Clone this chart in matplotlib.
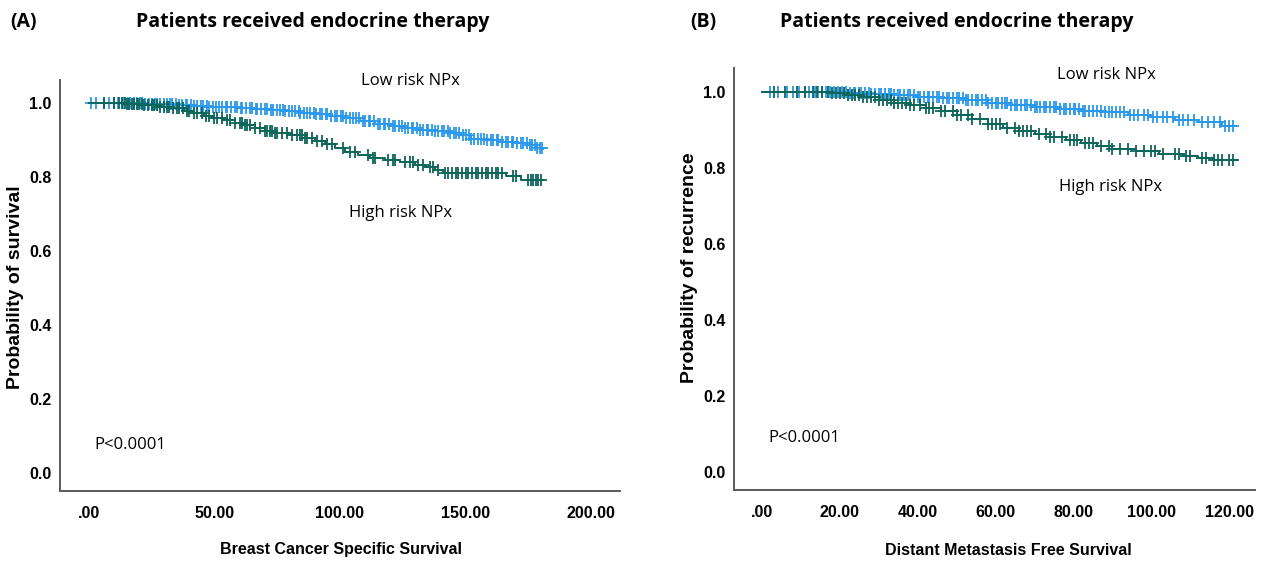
import numpy as np
import matplotlib
matplotlib.use("Agg")
import matplotlib.pyplot as plt

# ---- data ----
# (A) breast cancer specific survival, months
a_low_t = [0, 22, 30, 36, 42, 48, 54, 60, 66, 72, 78, 84, 90, 96, 102, 108, 114, 120, 126,
           132, 138, 144, 148, 152, 158, 164, 170, 175, 178, 181]
a_low_s = [1.0, 0.998, 0.996, 0.994, 0.992, 0.990, 0.988, 0.985, 0.983, 0.980, 0.977, 0.973,
           0.969, 0.964, 0.958, 0.951, 0.944, 0.937, 0.932, 0.928, 0.924, 0.919, 0.912, 0.903,
           0.899, 0.895, 0.892, 0.885, 0.879, 0.875]
a_high_t = [0, 15, 22, 28, 33, 38, 42, 46, 50, 54, 58, 62, 66, 70, 74, 80, 86, 90, 94, 98, 102,
            107, 112, 118, 124, 130, 134, 138, 141, 166, 172, 181]
a_high_s = [1.0, 0.998, 0.995, 0.990, 0.985, 0.978, 0.972, 0.966, 0.960, 0.953, 0.947, 0.940,
            0.932, 0.924, 0.919, 0.913, 0.905, 0.898, 0.889, 0.878, 0.868, 0.858, 0.851, 0.846,
            0.840, 0.833, 0.826, 0.818, 0.811, 0.803, 0.793, 0.793]
a_low_cens = [1, 3, 6, 8, 10, 11.5, 13, 14, 15.5, 16.5, 18, 19, 20.5, 21, 22.5, 24, 25, 26.5,
              27, 28.5, 30, 31, 32.5, 33, 34.5, 36, 37, 38.5, 39, 40.5, 42, 43, 44.5, 45.5, 47,
              48, 49.5, 50.5, 52, 53, 54.5, 55, 56.5, 58, 59, 60.5, 61, 62.5, 64, 65, 66.5, 67,
              68.5, 70, 71, 72.5, 73.5, 75, 76, 77.5, 78, 79.5, 81, 82, 83.5, 84, 85.5, 87, 88,
              89.5, 90.5, 92, 93, 94.5, 95, 96.5, 98, 99, 100.5, 101, 102.5, 104, 105, 106.5,
              107.5, 109, 110, 111.5, 112, 113.5, 115, 116, 117.5, 118, 119.5, 121, 122, 123.5,
              124.5, 126, 127, 128.5, 129, 130.5, 132, 133, 134.5, 135, 136.5, 138, 139, 140.5,
              141.5, 143, 144, 145.5, 146, 147.5, 149, 150, 151.5, 152, 153.5, 155, 156, 157.5,
              158.5, 160, 161, 162.5, 163, 164.5, 166, 167, 168.5, 169, 170.5, 172, 173, 174.5,
              175.5, 176.5, 177.5, 178.5, 179.5, 180.5]
a_high_cens = [6, 10, 12, 13, 14.5, 15, 16, 17, 18, 19, 20, 21, 22, 23.5, 25, 26, 27, 28.5, 30,
               31, 32, 33.5, 35, 36, 37.5, 39, 40, 42, 43, 45, 46.5, 48, 50, 51, 53, 55, 56,
               58, 60, 61, 62, 63, 64, 66, 68, 70, 71, 72, 73, 74, 75, 77, 79, 81, 83, 84,
               85, 86, 87, 89, 91, 93, 95, 97, 101, 104, 106, 111, 113, 114, 119, 121, 122,
               126, 128, 129, 131, 133, 136, 137, 139, 142, 143, 144.5, 146, 147, 148.5, 150,
               151, 152.5, 154, 155, 156.5, 158, 159, 160.5, 162, 163, 164.5, 169, 170, 175,
               176, 177, 178, 179, 180]

# (B) distant metastasis free survival, months
b_low_t = [0, 15, 22, 28, 34, 40, 46, 52, 58, 64, 70, 76, 82, 88, 94, 100, 106, 112, 118, 122]
b_low_s = [1.0, 0.999, 0.997, 0.994, 0.991, 0.987, 0.983, 0.978, 0.972, 0.966, 0.960, 0.955,
           0.950, 0.946, 0.940, 0.934, 0.927, 0.920, 0.910, 0.910]
b_high_t = [0, 18, 22, 26, 30, 34, 38, 42, 46, 50, 54, 58, 62, 66, 70, 74, 78, 82, 86, 90, 96,
            102, 108, 112, 116, 122]
b_high_s = [1.0, 0.998, 0.993, 0.987, 0.980, 0.972, 0.965, 0.957, 0.949, 0.940, 0.930, 0.917,
            0.905, 0.897, 0.889, 0.881, 0.873, 0.866, 0.858, 0.851, 0.845, 0.838, 0.831, 0.826,
            0.822, 0.822]
b_low_cens = [2, 4, 6.5, 8, 9.5, 11, 12, 13.5, 14.5, 15.5, 16.5, 17.5, 18.5, 19.5, 20.5, 21.5,
              22.5, 23.5, 24, 25, 25.5, 26.5, 27.5, 28, 29, 30, 30.5, 31.5, 32.5, 33, 34, 35,
              35.5, 36.5, 37.5, 38, 39, 40, 40.5, 41.5, 42.5, 43, 44, 45, 45.5, 46.5, 47.5,
              48, 49, 50, 50.5, 51.5, 52.5, 53, 54, 55, 55.5, 56.5, 57.5, 58, 59, 60, 60.5,
              61.5, 62.5, 63, 64, 65, 65.5, 66.5, 67.5, 68, 69, 70, 70.5, 71.5, 72.5, 73, 74,
              75, 75.5, 76.5, 77.5, 78, 79, 80, 80.5, 81.5, 82.5, 83, 84, 85, 86, 87, 88,
              89, 90, 91, 92, 93, 94.5, 95.5, 96.5, 98, 99, 100.5, 101.5, 103, 104, 105.5,
              107, 108, 109.5, 111, 113, 114.5, 116, 117.5, 119, 120, 121]
b_high_cens = [3, 6, 9, 11, 13, 14, 15.5, 17, 18, 19, 20, 21, 22, 23, 24, 25, 26, 27, 28, 29,
               30, 31, 32, 33, 34, 35, 36, 37, 38, 39, 40.5, 42, 43, 44, 46, 47, 49, 50, 51,
               53, 54, 56, 58, 59, 60, 61, 63, 65, 66, 67, 68, 69, 71, 73, 74, 75, 77, 79,
               80, 81, 83, 84, 85, 87, 89, 90, 92, 94, 96, 98, 100, 101, 103, 106, 107, 109,
               110, 113, 114, 116, 117, 118, 120, 121]

a_xticks = [0, 50, 100, 150, 200]
b_xticks = [0, 20, 40, 60, 80, 100, 120]
yticks = [0.0, 0.2, 0.4, 0.6, 0.8, 1.0]

LOW_COL = "#2A98EC"
HIGH_COL = "#0D665B"
SPINE_COL = "#5a5a5a"
TICK_FONT = ["Liberation Sans", "DejaVu Sans"]
TEXT_FONT = ["Open Sans", "DejaVu Sans"]


def censor_y(times, surv, cens):
    idx = np.searchsorted(times, cens, side="right") - 1
    return np.asarray(surv)[idx]


def km_panel(ax, low_t, low_s, low_c, high_t, high_s, high_c, xticks, xlim, ylim):
    for t, s, c, col in [(low_t, low_s, low_c, LOW_COL), (high_t, high_s, high_c, HIGH_COL)]:
        ax.step(t, s, where="post", color=col, lw=1.4)
        ax.plot(c, censor_y(t, s, c), "+", color=col, ms=9, mew=1.3)
    ax.set_xlim(*xlim)
    ax.set_ylim(*ylim)
    ax.set_xticks(xticks)
    ax.set_xticklabels([".00" if v == 0 else f"{v:.2f}" for v in xticks])
    ax.set_yticks(yticks)
    ax.set_yticklabels([f"{v:.1f}" for v in yticks])
    ax.tick_params(axis="y", length=0, pad=6)
    ax.tick_params(axis="x", length=0, pad=11)
    for lab in ax.get_xticklabels() + ax.get_yticklabels():
        lab.set_family(TICK_FONT)
        lab.set_fontweight("bold")
        lab.set_fontsize(11.5)
    for side in ["top", "right"]:
        ax.spines[side].set_visible(False)
    for side in ["left", "bottom"]:
        ax.spines[side].set_color(SPINE_COL)
        ax.spines[side].set_linewidth(1.4)


def axis_labels(ax, xlabel, ylabel, xpos, ypos):
    ax.set_xlabel(xlabel, family=TICK_FONT, fontweight="bold", fontsize=11.5, va="center")
    ax.xaxis.set_label_coords(*xpos)
    ax.set_ylabel(ylabel, family=TICK_FONT, fontweight="bold", fontsize=14, va="center")
    ax.yaxis.set_label_coords(*ypos)


W, H = 1282, 563
fig = plt.figure(figsize=(W / 100, H / 100), dpi=100)

axA = fig.add_axes([60 / W, 1 - 491 / H, 560 / W, 411 / H])
km_panel(axA, a_low_t, a_low_s, a_low_cens, a_high_t, a_high_s, a_high_cens,
         a_xticks, (-11.5, 211.5), (-0.049, 1.062))
axis_labels(axA, "Breast Cancer Specific Survival", "Probability of survival",
            (0.502, -0.1435), (-0.079, 0.495))
axA.text(128, 1.059, "Low risk NPx", family=TEXT_FONT, fontsize=12, ha="center", va="center")
axA.text(124, 0.703, "High risk NPx", family=TEXT_FONT, fontsize=12, ha="center", va="center")
axA.text(2, 0.076, "P<0.0001", family=TEXT_FONT, fontsize=12, ha="left", va="center")

axB = fig.add_axes([734 / W, 1 - 490 / H, 521 / W, 422 / H])
km_panel(axB, b_low_t, b_low_s, b_low_cens, b_high_t, b_high_s, b_high_cens,
         b_xticks, (-7.2, 126.6), (-0.047, 1.063))
axis_labels(axB, "Distant Metastasis Free Survival", "Probability of recurrence",
            (0.526, -0.1445), (-0.085, 0.527))
axB.text(88.5, 1.045, "Low risk NPx", family=TEXT_FONT, fontsize=12, ha="center", va="center")
axB.text(89.5, 0.750, "High risk NPx", family=TEXT_FONT, fontsize=12, ha="center", va="center")
axB.text(1.5, 0.090, "P<0.0001", family=TEXT_FONT, fontsize=12, ha="left", va="center")

fig.text(10 / W, 1 - 22 / H, "(A)", family=TEXT_FONT, fontweight="bold", fontsize=14, va="center")
fig.text(313 / W, 1 - 22 / H, "Patients received endocrine therapy", family=TEXT_FONT,
         fontweight="bold", fontsize=14, ha="center", va="center")
fig.text(690 / W, 1 - 22 / H, "(B)", family=TEXT_FONT, fontweight="bold", fontsize=14, va="center")
fig.text(957 / W, 1 - 22 / H, "Patients received endocrine therapy", family=TEXT_FONT,
         fontweight="bold", fontsize=14, ha="center", va="center")

fig.savefig("out.png", dpi=100, facecolor="white")
